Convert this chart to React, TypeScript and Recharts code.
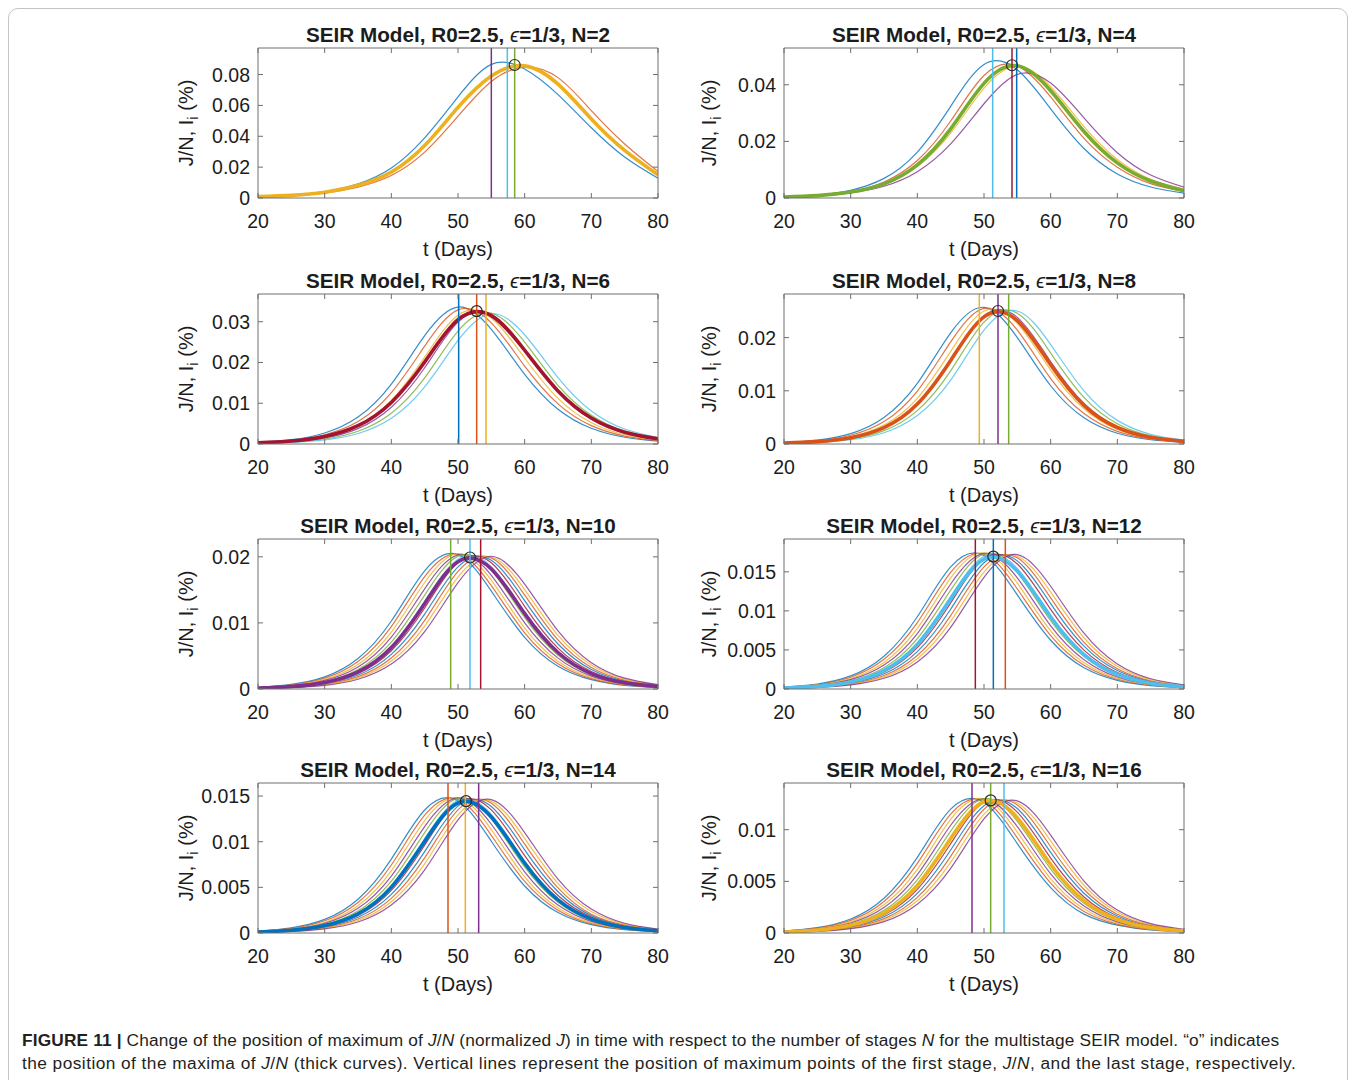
import { LineChart, Line, XAxis, YAxis, ReferenceLine, ReferenceDot } from "recharts";

// sample days shared by every curve
const DAYS = [20, 25, 30, 35, 40, 45, 50, 55, 60, 65, 70, 75, 80];
const X_TICKS = [20, 30, 40, 50, 60, 70, 80];

// N = 2
const J_N2 = [0.0009, 0.0017, 0.0037, 0.0082, 0.0168, 0.034, 0.0587, 0.079, 0.0856, 0.0738, 0.0512, 0.0308, 0.015];
const I_N2 = [
  [0.001, 0.0019, 0.0042, 0.0092, 0.0195, 0.039, 0.0655, 0.0866, 0.0836, 0.067, 0.0455, 0.0265, 0.0128],
  [0.0008, 0.0015, 0.0032, 0.0071, 0.0146, 0.0297, 0.053, 0.0755, 0.0848, 0.078, 0.0566, 0.035, 0.0172],
];
const YT_N2 = [0, 0.02, 0.04, 0.06, 0.08];
const VL_N2 = [55.0, 57.4, 58.5];
const PK_N2 = [58.5, 0.0862];

// N = 4
const J_N4 = [0.00033, 0.00085, 0.0021, 0.005, 0.0117, 0.0244, 0.0405, 0.0467, 0.0379, 0.0235, 0.0124, 0.006, 0.0026];
const I_N4 = [
  [0.00041, 0.00106, 0.00275, 0.00693, 0.01624, 0.0324, 0.0472, 0.0453, 0.0315, 0.0175, 0.0085, 0.0039, 0.0017],
  [0.00036, 0.0009, 0.00228, 0.00566, 0.01323, 0.0272, 0.0433, 0.0467, 0.0357, 0.0211, 0.0109, 0.0051, 0.0023],
  [0.00033, 0.00082, 0.002, 0.00483, 0.0111, 0.0229, 0.0388, 0.0466, 0.0393, 0.0252, 0.0136, 0.0066, 0.0031],
  [0.00032, 0.00076, 0.0018, 0.00416, 0.0093, 0.0191, 0.0333, 0.0437, 0.0406, 0.0283, 0.016, 0.0081, 0.0038],
];
const YT_N4 = [0, 0.02, 0.04];
const VL_N4 = [51.3, 54.2, 54.9];
const PK_N4 = [54.2, 0.0469];

// N = 6
const J_N6 = [0.0003, 0.00075, 0.00186, 0.00449, 0.0102, 0.0201, 0.0305, 0.0315, 0.023, 0.013, 0.00636, 0.0029, 0.00127];
const I_N6 = [
  [0.00041, 0.00106, 0.0027, 0.0066, 0.0147, 0.0266, 0.0336, 0.0281, 0.0171, 0.00853, 0.00385, 0.00166, 0.0007],
  [0.00033, 0.00087, 0.00228, 0.0055, 0.0126, 0.024, 0.0329, 0.0297, 0.0191, 0.00984, 0.0045, 0.00195, 0.00083],
  [0.00028, 0.00071, 0.00183, 0.00456, 0.0107, 0.0213, 0.0316, 0.0309, 0.0211, 0.0112, 0.00523, 0.00229, 0.00097],
  [0.00022, 0.00058, 0.0015, 0.00378, 0.009, 0.0187, 0.0299, 0.0317, 0.0231, 0.0128, 0.00608, 0.00268, 0.00115],
  [0.00018, 0.00047, 0.00123, 0.00312, 0.00754, 0.0162, 0.0277, 0.0321, 0.025, 0.0144, 0.00704, 0.00315, 0.00135],
  [0.00015, 0.00039, 0.00101, 0.00257, 0.0063, 0.014, 0.0254, 0.032, 0.0268, 0.0163, 0.0081, 0.00367, 0.00158],
];
const YT_N6 = [0, 0.01, 0.02, 0.03];
const VL_N6 = [50.1, 52.8, 54.2];
const PK_N6 = [52.8, 0.0326];

// N = 8
const J_N8 = [0.00016, 0.00044, 0.00118, 0.00307, 0.0075, 0.0157, 0.0239, 0.0232, 0.0149, 0.00727, 0.0031, 0.00125, 0.00049];
const I_N8 = [
  [0.00027, 0.00074, 0.00196, 0.005, 0.0114, 0.0209, 0.0257, 0.02, 0.01095, 0.00493, 0.00203, 0.0008, 0.00031],
  [0.00023, 0.00062, 0.00165, 0.00422, 0.00995, 0.0192, 0.0255, 0.0214, 0.0123, 0.00572, 0.00238, 0.00095, 0.00037],
  [0.00019, 0.00052, 0.00138, 0.00356, 0.00859, 0.0174, 0.025, 0.0227, 0.0139, 0.00662, 0.00278, 0.00112, 0.00044],
  [0.00016, 0.00043, 0.00115, 0.003, 0.00737, 0.0155, 0.0241, 0.0238, 0.0155, 0.00762, 0.00326, 0.00131, 0.00052],
  [0.00013, 0.00036, 0.00096, 0.00252, 0.00628, 0.01375, 0.0229, 0.0246, 0.0171, 0.00875, 0.00381, 0.00154, 0.00061],
  [0.00011, 0.0003, 0.0008, 0.00212, 0.00536, 0.012, 0.0214, 0.025, 0.0187, 0.00998, 0.00444, 0.00181, 0.00072],
];
const YT_N8 = [0, 0.01, 0.02];
const VL_N8 = [49.3, 52.1, 53.7];
const PK_N8 = [52.1, 0.025];

// N = 10
const J_N10 = [0.00014, 0.00037, 0.00099, 0.00259, 0.00627, 0.01294, 0.01927, 0.01816, 0.01141, 0.00552, 0.00234, 0.00094, 0.00037];
const I_N10 = [
  [0.00026, 0.00069, 0.00183, 0.00461, 0.01029, 0.01789, 0.02033, 0.01481, 0.00781, 0.00344, 0.00141, 0.00055, 0.00022],
  [0.00023, 0.00062, 0.00164, 0.00416, 0.00945, 0.01701, 0.02042, 0.01564, 0.00851, 0.00383, 0.00158, 0.00062, 0.00025],
  [0.0002, 0.00055, 0.00145, 0.0037, 0.00861, 0.01612, 0.0205, 0.01647, 0.0092, 0.00421, 0.00174, 0.00069, 0.00027],
  [0.00018, 0.00049, 0.0013, 0.00333, 0.00786, 0.01516, 0.02031, 0.01721, 0.01001, 0.00467, 0.00195, 0.00078, 0.0003],
  [0.00016, 0.00043, 0.00114, 0.00296, 0.0071, 0.0142, 0.02011, 0.01795, 0.01081, 0.00512, 0.00215, 0.00086, 0.00033],
  [0.00015, 0.00039, 0.00102, 0.00266, 0.00645, 0.01323, 0.01965, 0.01853, 0.01166, 0.00566, 0.0024, 0.00097, 0.00038],
  [0.00013, 0.00035, 0.0009, 0.00235, 0.00579, 0.01226, 0.01918, 0.0191, 0.01251, 0.00619, 0.00265, 0.00107, 0.00042],
  [0.00012, 0.00031, 0.00081, 0.00211, 0.00524, 0.01132, 0.01849, 0.01948, 0.01337, 0.00681, 0.00296, 0.0012, 0.00048],
  [0.0001, 0.00026, 0.00071, 0.00187, 0.00469, 0.01038, 0.01779, 0.01985, 0.01422, 0.00742, 0.00326, 0.00133, 0.00053],
  [0.00009, 0.00024, 0.00064, 0.00168, 0.00423, 0.00953, 0.01694, 0.01997, 0.01505, 0.00811, 0.00363, 0.00149, 0.00059],
  [0.00008, 0.00021, 0.00056, 0.00148, 0.00377, 0.00868, 0.01609, 0.02009, 0.01588, 0.00879, 0.00399, 0.00164, 0.00065],
];
const YT_N10 = [0, 0.01, 0.02];
const VL_N10 = [48.9, 51.8, 53.4];
const PK_N10 = [51.8, 0.0199];

// N = 12
const J_N12 = [0.00013, 0.00034, 0.00091, 0.00237, 0.00571, 0.01154, 0.01661, 0.01509, 0.00922, 0.0044, 0.00185, 0.00074, 0.00029];
const I_N12 = [
  [0.00024, 0.00064, 0.00168, 0.0042, 0.00925, 0.01562, 0.0171, 0.01204, 0.00624, 0.00272, 0.00111, 0.00044, 0.00017],
  [0.00022, 0.00057, 0.00151, 0.0038, 0.0085, 0.01492, 0.01727, 0.0128, 0.00684, 0.00304, 0.00125, 0.0005, 0.00019],
  [0.00019, 0.0005, 0.00133, 0.00339, 0.00775, 0.01422, 0.01743, 0.01355, 0.00744, 0.00335, 0.00138, 0.00055, 0.00021],
  [0.00017, 0.00045, 0.00119, 0.00306, 0.0071, 0.01344, 0.01736, 0.01422, 0.00809, 0.00375, 0.00154, 0.00062, 0.00024],
  [0.00015, 0.0004, 0.00105, 0.00272, 0.00645, 0.01265, 0.01729, 0.01489, 0.00874, 0.00414, 0.0017, 0.00068, 0.00027],
  [0.00013, 0.00036, 0.00094, 0.00245, 0.00587, 0.01183, 0.01698, 0.01545, 0.00947, 0.00456, 0.00191, 0.00077, 0.0003],
  [0.00011, 0.00031, 0.00083, 0.00217, 0.00529, 0.01101, 0.01667, 0.016, 0.01019, 0.00497, 0.00211, 0.00085, 0.00033],
  [0.0001, 0.00028, 0.00075, 0.00195, 0.00479, 0.01021, 0.01616, 0.0164, 0.01093, 0.00548, 0.00236, 0.00096, 0.00038],
  [0.00009, 0.00025, 0.00066, 0.00173, 0.00429, 0.0094, 0.01564, 0.0168, 0.01167, 0.00598, 0.0026, 0.00106, 0.00042],
  [0.00008, 0.00022, 0.00059, 0.00155, 0.00388, 0.00865, 0.01497, 0.017, 0.01241, 0.00656, 0.0029, 0.00119, 0.00047],
  [0.00007, 0.00019, 0.00052, 0.00137, 0.00347, 0.00789, 0.0143, 0.01719, 0.01315, 0.00714, 0.0032, 0.00131, 0.00052],
];
const YT_N12 = [0, 0.005, 0.01, 0.015];
const VL_N12 = [48.7, 51.4, 53.2];
const PK_N12 = [51.4, 0.01694];

// N = 14
const J_N14 = [0.00011, 0.0003, 0.00081, 0.0021, 0.00503, 0.01005, 0.01424, 0.0127, 0.00765, 0.00362, 0.00152, 0.00061, 0.00024];
const I_N14 = [
  [0.00021, 0.00057, 0.00149, 0.0037, 0.0081, 0.01347, 0.01447, 0.01005, 0.00515, 0.00224, 0.00091, 0.00036, 0.00014],
  [0.00019, 0.00051, 0.00134, 0.00335, 0.00745, 0.0129, 0.01464, 0.01069, 0.00565, 0.0025, 0.00102, 0.00041, 0.00016],
  [0.00016, 0.00045, 0.00118, 0.00299, 0.0068, 0.01232, 0.01481, 0.01133, 0.00615, 0.00275, 0.00113, 0.00045, 0.00018],
  [0.00015, 0.0004, 0.00106, 0.0027, 0.00624, 0.01166, 0.01479, 0.01191, 0.0067, 0.00306, 0.00127, 0.00051, 0.0002],
  [0.00013, 0.00035, 0.00094, 0.0024, 0.00567, 0.011, 0.01477, 0.01249, 0.00724, 0.00337, 0.0014, 0.00056, 0.00022],
  [0.00012, 0.00032, 0.00084, 0.00216, 0.00517, 0.01031, 0.01454, 0.01299, 0.00786, 0.00374, 0.00157, 0.00063, 0.00025],
  [0.0001, 0.00028, 0.00074, 0.00192, 0.00466, 0.00961, 0.01431, 0.01349, 0.00847, 0.0041, 0.00174, 0.00069, 0.00027],
  [0.00009, 0.00025, 0.00066, 0.00173, 0.00423, 0.00892, 0.0139, 0.01386, 0.0091, 0.00452, 0.0019, 0.00078, 0.00031],
  [0.00008, 0.00022, 0.00058, 0.00153, 0.00379, 0.00823, 0.01349, 0.01422, 0.00973, 0.00494, 0.00206, 0.00087, 0.00034],
  [0.00007, 0.0002, 0.00052, 0.00137, 0.00343, 0.00758, 0.01294, 0.01442, 0.01037, 0.00543, 0.00235, 0.00097, 0.00039],
  [0.00006, 0.00017, 0.00046, 0.00121, 0.00307, 0.00692, 0.01238, 0.01461, 0.011, 0.00591, 0.00263, 0.00107, 0.00043],
];
const YT_N14 = [0, 0.005, 0.01, 0.015];
const VL_N14 = [48.5, 51.1, 53.1];
const PK_N14 = [51.2, 0.01444];

// N = 16
const J_N16 = [0.0001, 0.00028, 0.00075, 0.00193, 0.00461, 0.00914, 0.01271, 0.01114, 0.00663, 0.00312, 0.00131, 0.00052, 0.0002];
const I_N16 = [
  [0.00019, 0.00052, 0.00136, 0.00337, 0.00732, 0.01199, 0.01263, 0.00865, 0.00439, 0.00183, 0.00077, 0.0003, 0.00012],
  [0.00017, 0.00047, 0.00122, 0.00305, 0.00674, 0.0115, 0.01281, 0.00921, 0.00482, 0.00209, 0.00086, 0.00034, 0.00014],
  [0.00015, 0.00041, 0.00108, 0.00273, 0.00615, 0.011, 0.01298, 0.00977, 0.00525, 0.00234, 0.00095, 0.00038, 0.00015],
  [0.00014, 0.00037, 0.00097, 0.00246, 0.00565, 0.01043, 0.01299, 0.01029, 0.00572, 0.00261, 0.00107, 0.00043, 0.00017],
  [0.00012, 0.00032, 0.00086, 0.00219, 0.00514, 0.00986, 0.013, 0.01081, 0.00619, 0.00287, 0.00119, 0.00047, 0.00018],
  [0.00011, 0.00029, 0.00077, 0.00197, 0.00469, 0.00925, 0.01283, 0.01126, 0.00672, 0.00318, 0.00133, 0.00053, 0.00021],
  [0.00009, 0.00025, 0.00067, 0.00175, 0.00423, 0.00864, 0.01265, 0.0117, 0.00725, 0.00349, 0.00147, 0.00059, 0.00023],
  [0.00008, 0.00023, 0.0006, 0.00157, 0.00384, 0.00803, 0.01232, 0.01205, 0.0078, 0.00385, 0.00165, 0.00066, 0.00026],
  [0.00007, 0.0002, 0.00053, 0.00139, 0.00345, 0.00742, 0.01198, 0.01239, 0.00835, 0.00421, 0.00182, 0.00073, 0.00029],
  [0.00007, 0.00018, 0.00048, 0.00125, 0.00312, 0.00684, 0.01151, 0.01259, 0.00891, 0.00462, 0.00203, 0.00082, 0.00033],
  [0.00006, 0.00015, 0.00042, 0.0011, 0.00279, 0.00626, 0.01104, 0.01279, 0.00947, 0.00503, 0.00223, 0.00091, 0.00036],
];
const YT_N16 = [0, 0.005, 0.01];
const VL_N16 = [48.2, 51.0, 53.0];
const PK_N16 = [51.0, 0.01284];

// matlab default colour order
const MATLAB = ["#0072BD", "#D95319", "#EDB120", "#7E2F8E", "#77AC30", "#4DBEEE", "#A2142F"];
const FONT = '"Liberation Sans", Arial, Helvetica, sans-serif';
const AXIS = "#6e6e6e";
const TEXT = "#1c1c1c";

const Y_AXIS_W = 70;
const PLOT_W = 400;
const PLOT_H = 150;
const TOP_PAD = 5;
const BOTTOM_AXIS_H = 40;
const COL_LEFT = [258, 784];
const COL_YLABEL = [186, 709];
const ROW_TOP = [48, 294, 539, 783];

type PanelCfg = {
  n: number;
  row: number;
  col: number;
  thick: number[];
  stages: number[][];
  thickColor: number;
  yMax: number;
  yTicks: number[];
  vlines: number[];
  vColors: number[];
  peak: number[];
};

const PANELS: PanelCfg[] = [
  { n: 2, row: 0, col: 0, thick: J_N2, stages: I_N2, thickColor: 2, yMax: 0.0972, yTicks: YT_N2, vlines: VL_N2, vColors: [3, 5, 4], peak: PK_N2 },
  { n: 4, row: 0, col: 1, thick: J_N4, stages: I_N4, thickColor: 4, yMax: 0.053, yTicks: YT_N4, vlines: VL_N4, vColors: [5, 6, 0], peak: PK_N4 },
  { n: 6, row: 1, col: 0, thick: J_N6, stages: I_N6, thickColor: 6, yMax: 0.0368, yTicks: YT_N6, vlines: VL_N6, vColors: [0, 1, 2], peak: PK_N6 },
  { n: 8, row: 1, col: 1, thick: J_N8, stages: I_N8, thickColor: 1, yMax: 0.0282, yTicks: YT_N8, vlines: VL_N8, vColors: [2, 3, 4], peak: PK_N8 },
  { n: 10, row: 2, col: 0, thick: J_N10, stages: I_N10, thickColor: 3, yMax: 0.0227, yTicks: YT_N10, vlines: VL_N10, vColors: [4, 5, 6], peak: PK_N10 },
  { n: 12, row: 2, col: 1, thick: J_N12, stages: I_N12, thickColor: 5, yMax: 0.0192, yTicks: YT_N12, vlines: VL_N12, vColors: [6, 0, 1], peak: PK_N12 },
  { n: 14, row: 3, col: 0, thick: J_N14, stages: I_N14, thickColor: 0, yMax: 0.01643, yTicks: YT_N14, vlines: VL_N14, vColors: [1, 2, 3], peak: PK_N14 },
  { n: 16, row: 3, col: 1, thick: J_N16, stages: I_N16, thickColor: 2, yMax: 0.01452, yTicks: YT_N16, vlines: VL_N16, vColors: [3, 4, 5], peak: PK_N16 },
];

// inward tick marks like matlab's boxed axes
function BottomTick({ x, y, payload }: any) {
  return (
    <g>
      <line x1={x} y1={y} x2={x} y2={y - 5} stroke={AXIS} />
      <text x={x} y={y + 30} textAnchor="middle" fontSize={19.5} fontFamily={FONT} fill={TEXT}>
        {payload.value}
      </text>
    </g>
  );
}

function TopTick({ x, y }: any) {
  return <line x1={x} y1={y} x2={x} y2={y + 5} stroke={AXIS} />;
}

function LeftTick({ x, y, payload }: any) {
  return (
    <g>
      <line x1={x} y1={y} x2={x + 5} y2={y} stroke={AXIS} />
      <text x={x - 8} y={y + 7} textAnchor="end" fontSize={19.5} fontFamily={FONT} fill={TEXT}>
        {payload.value}
      </text>
    </g>
  );
}

function RightTick({ x, y }: any) {
  return <line x1={x} y1={y} x2={x - 5} y2={y} stroke={AXIS} />;
}

function buildRows(thick: number[], stages: number[][]) {
  return DAYS.map((t, i) => {
    const row: Record<string, number> = { t, j: thick[i] };
    stages.forEach((s, k) => {
      row[`s${k}`] = s[i];
    });
    return row;
  });
}

function Panel({ cfg }: { cfg: PanelCfg }) {
  const rows = buildRows(cfg.thick, cfg.stages);
  const plotLeft = COL_LEFT[cfg.col];
  const plotTop = ROW_TOP[cfg.row];
  const domainY: [number, number] = [0, cfg.yMax];

  return (
    <>
      <div
        style={{
          position: "absolute",
          left: plotLeft - 100,
          top: plotTop - 25,
          width: PLOT_W + 200,
          height: 24,
          lineHeight: "24px",
          textAlign: "center",
          fontFamily: FONT,
          fontWeight: 700,
          fontSize: 20.7,
          color: TEXT,
          whiteSpace: "nowrap",
        }}
      >
        SEIR Model, R0=2.5, <span style={{ fontStyle: "italic", fontWeight: 400 }}>ϵ</span>=1/3, N={cfg.n}
      </div>

      <div
        style={{
          position: "absolute",
          left: COL_YLABEL[cfg.col] - 100,
          top: plotTop + PLOT_H / 2 - 12,
          width: 200,
          height: 24,
          lineHeight: "24px",
          textAlign: "center",
          transform: "rotate(-90deg)",
          fontFamily: FONT,
          fontSize: 20,
          color: TEXT,
          whiteSpace: "nowrap",
        }}
      >
        J/N, I<span style={{ fontSize: 15, position: "relative", top: 5 }}>i</span> (%)
      </div>

      <div
        style={{
          position: "absolute",
          left: plotLeft,
          top: plotTop + PLOT_H + 39,
          width: PLOT_W,
          height: 24,
          lineHeight: "24px",
          textAlign: "center",
          fontFamily: FONT,
          fontSize: 20,
          color: TEXT,
        }}
      >
        t (Days)
      </div>

      <div style={{ position: "absolute", left: plotLeft - Y_AXIS_W, top: plotTop - TOP_PAD }}>
        <LineChart
          width={Y_AXIS_W + PLOT_W + 1 + 10}
          height={TOP_PAD + PLOT_H + BOTTOM_AXIS_H}
          data={rows}
          margin={{ top: TOP_PAD - 1, right: 10, bottom: 0, left: 0 }}
        >
          <XAxis
            xAxisId="b"
            dataKey="t"
            type="number"
            domain={[20, 80]}
            ticks={X_TICKS}
            allowDataOverflow
            interval={0}
            orientation="bottom"
            height={BOTTOM_AXIS_H}
            tickSize={0}
            tickMargin={0}
            tickLine={false}
            axisLine={{ stroke: AXIS }}
            tick={BottomTick}
          />
          <XAxis
            xAxisId="t"
            dataKey="t"
            type="number"
            domain={[20, 80]}
            ticks={X_TICKS}
            allowDataOverflow
            interval={0}
            orientation="top"
            height={1}
            tickSize={0}
            tickMargin={0}
            tickLine={false}
            axisLine={{ stroke: AXIS }}
            tick={TopTick}
          />
          <YAxis
            yAxisId="l"
            type="number"
            domain={domainY}
            ticks={cfg.yTicks}
            allowDataOverflow
            interval={0}
            width={Y_AXIS_W}
            tickSize={0}
            tickMargin={0}
            tickLine={false}
            axisLine={{ stroke: AXIS }}
            tick={LeftTick}
          />
          <YAxis
            yAxisId="r"
            orientation="right"
            type="number"
            domain={domainY}
            ticks={cfg.yTicks}
            allowDataOverflow
            interval={0}
            width={1}
            tickSize={0}
            tickMargin={0}
            tickLine={false}
            axisLine={{ stroke: AXIS }}
            tick={RightTick}
          />

          {cfg.stages.map((_, k) => (
            <Line
              key={k}
              xAxisId="b"
              yAxisId="l"
              type="natural"
              dataKey={`s${k}`}
              stroke={MATLAB[k % 7]}
              strokeWidth={1.2}
              strokeOpacity={0.8}
              dot={false}
              activeDot={false}
              isAnimationActive={false}
            />
          ))}
          <Line
            xAxisId="b"
            yAxisId="l"
            type="natural"
            dataKey="j"
            stroke={MATLAB[cfg.thickColor]}
            strokeWidth={3.6}
            dot={false}
            activeDot={false}
            isAnimationActive={false}
          />

          {cfg.vlines.map((v, k) => (
            <ReferenceLine
              key={k}
              xAxisId="b"
              yAxisId="l"
              x={v}
              stroke={MATLAB[cfg.vColors[k]]}
              strokeWidth={1.5}
            />
          ))}
          <ReferenceDot
            xAxisId="b"
            yAxisId="l"
            x={cfg.peak[0]}
            y={cfg.peak[1]}
            r={5.5}
            fill="none"
            stroke="#2b2b2b"
            strokeWidth={1.2}
          />
        </LineChart>
      </div>
    </>
  );
}

export default function App() {
  return (
    <div
      style={{
        position: "absolute",
        left: 0,
        top: 0,
        width: 1356,
        height: 1080,
        overflow: "hidden",
        background: "#ffffff",
        fontFamily: FONT,
      }}
    >
      <div
        style={{
          position: "absolute",
          left: 8,
          top: 8,
          width: 1338,
          height: 1100,
          border: "1px solid #c4c4c4",
          borderRadius: 10,
        }}
      />

      {PANELS.map((p) => (
        <Panel key={p.n} cfg={p} />
      ))}

      <div
        style={{
          position: "absolute",
          left: 22,
          top: 1029,
          fontFamily: FONT,
          fontSize: 17.3,
          lineHeight: "23px",
          color: "#231f20",
          whiteSpace: "nowrap",
        }}
      >
        <div style={{ letterSpacing: 0.15 }}>
          <b>FIGURE 11 |</b> Change of the position of maximum of <i>J</i>/<i>N</i> (normalized <i>J</i>) in time with
          respect to the number of stages <i>N</i> for the multistage SEIR model. “o” indicates
        </div>
        <div style={{ letterSpacing: 0.45 }}>
          the position of the maxima of <i>J</i>/<i>N</i> (thick curves). Vertical lines represent the position of
          maximum points of the first stage, <i>J</i>/<i>N</i>, and the last stage, respectively.
        </div>
      </div>
    </div>
  );
}
